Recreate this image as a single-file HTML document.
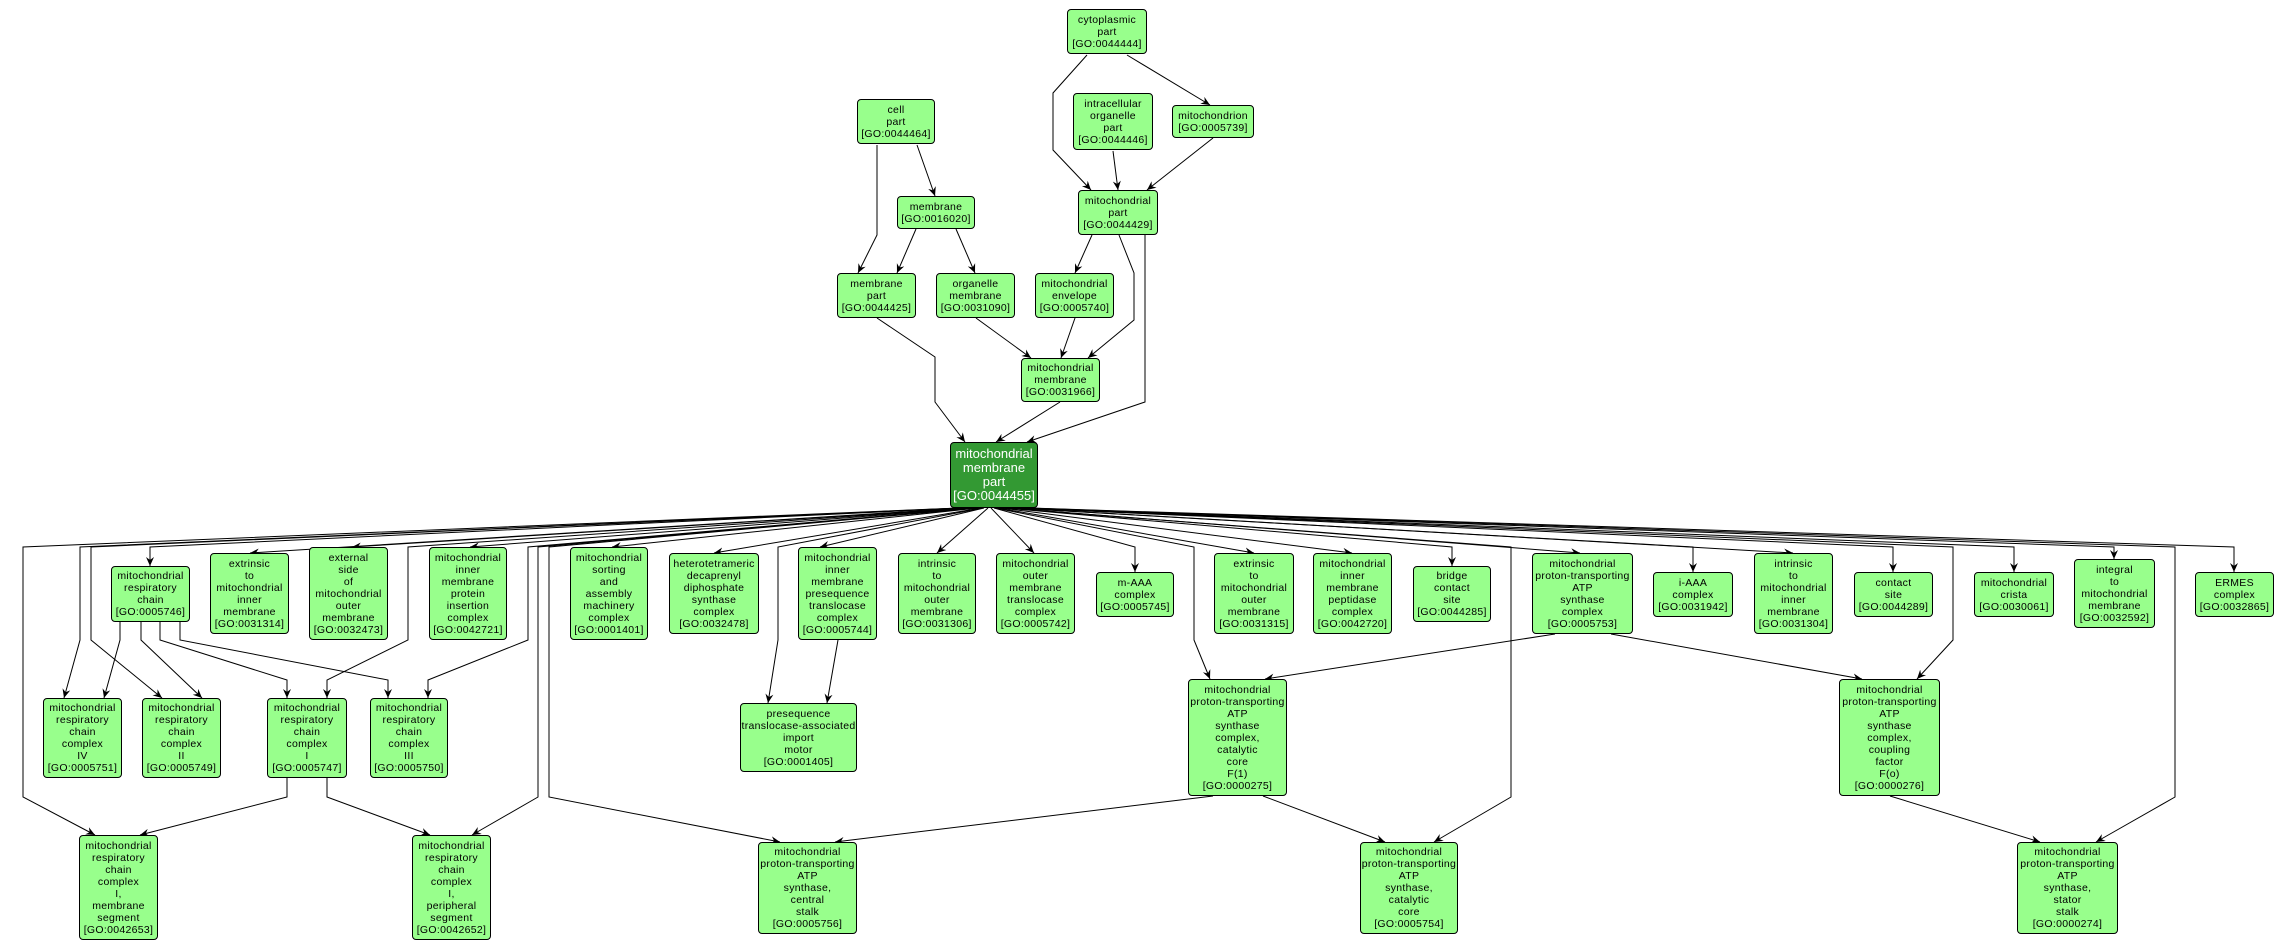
<!DOCTYPE html>
<html><head><meta charset="utf-8"><style>
body{margin:0;background:#fff;width:2291px;height:950px;overflow:hidden;position:relative;font-family:"Liberation Sans",sans-serif}
svg{position:absolute;left:0;top:0}
.n{position:absolute;box-sizing:border-box;background:#98ff8c;border:1px solid #000;border-radius:4px;display:flex;align-items:center;justify-content:center;text-align:center;font-size:10.5px;line-height:12px;letter-spacing:0.3px;color:#000;white-space:nowrap}
.c{background:#339933;color:#fff;font-size:13px;line-height:14px;letter-spacing:0}
</style></head><body>
<svg width="2291" height="950" viewBox="0 0 2291 950">
<defs><marker id="a" markerWidth="10" markerHeight="10" refX="9" refY="5" orient="auto" markerUnits="userSpaceOnUse"><path d="M0,1 L9,5 L0,9 L3,5 Z" fill="#000"/></marker></defs>
<g fill="none" stroke="#000" stroke-width="1" marker-end="url(#a)">
<polyline points="1087,55 1053,93 1053,150 1091,190"/>
<polyline points="1127,55 1210,105"/>
<polyline points="1113,151 1118,190"/>
<polyline points="1213,138 1147,190"/>
<polyline points="877,145 877,235 858,273"/>
<polyline points="917,145 935,196"/>
<polyline points="916,229 897,273"/>
<polyline points="956,229 975,273"/>
<polyline points="1092,235 1075,273"/>
<polyline points="1119,235 1134,273 1134,320 1088,358"/>
<polyline points="1145,235 1145,402 1027,442"/>
<polyline points="877,318 935,357 935,402 965,442"/>
<polyline points="976,318 1031,358"/>
<polyline points="1075,318 1061,358"/>
<polyline points="1060,402 996,442"/>
<polyline points="963,508 150,547 150,566"/>
<polyline points="966,508 250,553"/>
<polyline points="969,508 352,547"/>
<polyline points="973,508 470,547"/>
<polyline points="978,508 612,547"/>
<polyline points="981,508 714,553"/>
<polyline points="984,508 820,547"/>
<polyline points="988,508 937,553"/>
<polyline points="991,508 1034,553"/>
<polyline points="994,508 1135,547 1135,572"/>
<polyline points="998,508 1254,553"/>
<polyline points="1001,508 1352,553"/>
<polyline points="1004,508 1452,547 1452,566"/>
<polyline points="1008,508 1580,553"/>
<polyline points="1012,508 1693,547 1693,572"/>
<polyline points="1015,508 1793,553"/>
<polyline points="1018,508 1893,547 1893,572"/>
<polyline points="1022,508 2014,547 2014,572"/>
<polyline points="1025,508 2114,547 2114,559"/>
<polyline points="1030,508 2234,547 2234,572"/>
<polyline points="960,508 80,547 80,640 64,698"/>
<polyline points="961,508 91,547 91,640 162,698"/>
<polyline points="971,508 408,547 408,640 327,680 327,698"/>
<polyline points="975,508 528,547 528,640 428,680 428,698"/>
<polyline points="959,508 23,547 23,797 95,835"/>
<polyline points="976,508 538,547 538,797 472,835"/>
<polyline points="977,508 549,547 549,797 780,842"/>
<polyline points="983,508 778,547 778,640 768,703"/>
<polyline points="995,508 1194,547 1194,640 1210,679"/>
<polyline points="1020,508 1953,547 1953,640 1917,679"/>
<polyline points="1006,508 1511,547 1511,797 1434,842"/>
<polyline points="1027,508 2175,547 2175,797 2096,842"/>
<polyline points="120,622 120,640 104,698"/>
<polyline points="141,622 141,640 202,698"/>
<polyline points="160,622 160,640 287,680 287,698"/>
<polyline points="180,622 180,640 388,680 388,698"/>
<polyline points="287,778 287,797 140,835"/>
<polyline points="327,778 327,797 430,835"/>
<polyline points="838,640 827,703"/>
<polyline points="1213,796 835,842"/>
<polyline points="1555,634 1265,679"/>
<polyline points="1611,634 1862,679"/>
<polyline points="1263,796 1385,842"/>
<polyline points="1890,796 2040,842"/>
</g></svg>
<div class="n" style="left:1067px;top:9px;width:80px;height:45px">cytoplasmic<br>part<br>[GO:0044444]</div>
<div class="n" style="left:1073px;top:93px;width:80px;height:57px">intracellular<br>organelle<br>part<br>[GO:0044446]</div>
<div class="n" style="left:1172px;top:105px;width:82px;height:33px">mitochondrion<br>[GO:0005739]</div>
<div class="n" style="left:857px;top:99px;width:78px;height:45px">cell<br>part<br>[GO:0044464]</div>
<div class="n" style="left:897px;top:196px;width:78px;height:33px">membrane<br>[GO:0016020]</div>
<div class="n" style="left:1078px;top:190px;width:80px;height:45px">mitochondrial<br>part<br>[GO:0044429]</div>
<div class="n" style="left:837px;top:273px;width:79px;height:45px">membrane<br>part<br>[GO:0044425]</div>
<div class="n" style="left:936px;top:273px;width:79px;height:45px">organelle<br>membrane<br>[GO:0031090]</div>
<div class="n" style="left:1035px;top:273px;width:79px;height:45px">mitochondrial<br>envelope<br>[GO:0005740]</div>
<div class="n" style="left:1021px;top:358px;width:79px;height:44px">mitochondrial<br>membrane<br>[GO:0031966]</div>
<div class="n c" style="left:950px;top:442px;width:88px;height:66px">mitochondrial<br>membrane<br>part<br>[GO:0044455]</div>
<div class="n" style="left:111px;top:566px;width:79px;height:56px">mitochondrial<br>respiratory<br>chain<br>[GO:0005746]</div>
<div class="n" style="left:210px;top:553px;width:79px;height:81px">extrinsic<br>to<br>mitochondrial<br>inner<br>membrane<br>[GO:0031314]</div>
<div class="n" style="left:309px;top:547px;width:79px;height:93px">external<br>side<br>of<br>mitochondrial<br>outer<br>membrane<br>[GO:0032473]</div>
<div class="n" style="left:429px;top:547px;width:78px;height:93px">mitochondrial<br>inner<br>membrane<br>protein<br>insertion<br>complex<br>[GO:0042721]</div>
<div class="n" style="left:570px;top:547px;width:78px;height:93px">mitochondrial<br>sorting<br>and<br>assembly<br>machinery<br>complex<br>[GO:0001401]</div>
<div class="n" style="left:669px;top:553px;width:90px;height:81px">heterotetrameric<br>decaprenyl<br>diphosphate<br>synthase<br>complex<br>[GO:0032478]</div>
<div class="n" style="left:798px;top:547px;width:79px;height:93px">mitochondrial<br>inner<br>membrane<br>presequence<br>translocase<br>complex<br>[GO:0005744]</div>
<div class="n" style="left:898px;top:553px;width:78px;height:81px">intrinsic<br>to<br>mitochondrial<br>outer<br>membrane<br>[GO:0031306]</div>
<div class="n" style="left:996px;top:553px;width:79px;height:81px">mitochondrial<br>outer<br>membrane<br>translocase<br>complex<br>[GO:0005742]</div>
<div class="n" style="left:1096px;top:572px;width:78px;height:45px">m-AAA<br>complex<br>[GO:0005745]</div>
<div class="n" style="left:1214px;top:553px;width:80px;height:81px">extrinsic<br>to<br>mitochondrial<br>outer<br>membrane<br>[GO:0031315]</div>
<div class="n" style="left:1313px;top:553px;width:79px;height:81px">mitochondrial<br>inner<br>membrane<br>peptidase<br>complex<br>[GO:0042720]</div>
<div class="n" style="left:1413px;top:566px;width:78px;height:56px">bridge<br>contact<br>site<br>[GO:0044285]</div>
<div class="n" style="left:1532px;top:553px;width:101px;height:81px">mitochondrial<br>proton-transporting<br>ATP<br>synthase<br>complex<br>[GO:0005753]</div>
<div class="n" style="left:1653px;top:572px;width:80px;height:45px">i-AAA<br>complex<br>[GO:0031942]</div>
<div class="n" style="left:1754px;top:553px;width:79px;height:81px">intrinsic<br>to<br>mitochondrial<br>inner<br>membrane<br>[GO:0031304]</div>
<div class="n" style="left:1854px;top:572px;width:79px;height:45px">contact<br>site<br>[GO:0044289]</div>
<div class="n" style="left:1974px;top:572px;width:80px;height:45px">mitochondrial<br>crista<br>[GO:0030061]</div>
<div class="n" style="left:2074px;top:559px;width:81px;height:69px">integral<br>to<br>mitochondrial<br>membrane<br>[GO:0032592]</div>
<div class="n" style="left:2195px;top:572px;width:79px;height:45px">ERMES<br>complex<br>[GO:0032865]</div>
<div class="n" style="left:43px;top:698px;width:79px;height:80px">mitochondrial<br>respiratory<br>chain<br>complex<br>IV<br>[GO:0005751]</div>
<div class="n" style="left:142px;top:698px;width:79px;height:80px">mitochondrial<br>respiratory<br>chain<br>complex<br>II<br>[GO:0005749]</div>
<div class="n" style="left:267px;top:698px;width:80px;height:80px">mitochondrial<br>respiratory<br>chain<br>complex<br>I<br>[GO:0005747]</div>
<div class="n" style="left:370px;top:698px;width:78px;height:80px">mitochondrial<br>respiratory<br>chain<br>complex<br>III<br>[GO:0005750]</div>
<div class="n" style="left:740px;top:703px;width:117px;height:69px">presequence<br>translocase-associated<br>import<br>motor<br>[GO:0001405]</div>
<div class="n" style="left:1188px;top:679px;width:99px;height:117px">mitochondrial<br>proton-transporting<br>ATP<br>synthase<br>complex,<br>catalytic<br>core<br>F(1)<br>[GO:0000275]</div>
<div class="n" style="left:1839px;top:679px;width:101px;height:117px">mitochondrial<br>proton-transporting<br>ATP<br>synthase<br>complex,<br>coupling<br>factor<br>F(o)<br>[GO:0000276]</div>
<div class="n" style="left:79px;top:835px;width:79px;height:105px">mitochondrial<br>respiratory<br>chain<br>complex<br>I,<br>membrane<br>segment<br>[GO:0042653]</div>
<div class="n" style="left:412px;top:835px;width:79px;height:105px">mitochondrial<br>respiratory<br>chain<br>complex<br>I,<br>peripheral<br>segment<br>[GO:0042652]</div>
<div class="n" style="left:758px;top:842px;width:99px;height:92px">mitochondrial<br>proton-transporting<br>ATP<br>synthase,<br>central<br>stalk<br>[GO:0005756]</div>
<div class="n" style="left:1360px;top:842px;width:98px;height:92px">mitochondrial<br>proton-transporting<br>ATP<br>synthase,<br>catalytic<br>core<br>[GO:0005754]</div>
<div class="n" style="left:2017px;top:842px;width:101px;height:92px">mitochondrial<br>proton-transporting<br>ATP<br>synthase,<br>stator<br>stalk<br>[GO:0000274]</div>
</body></html>
